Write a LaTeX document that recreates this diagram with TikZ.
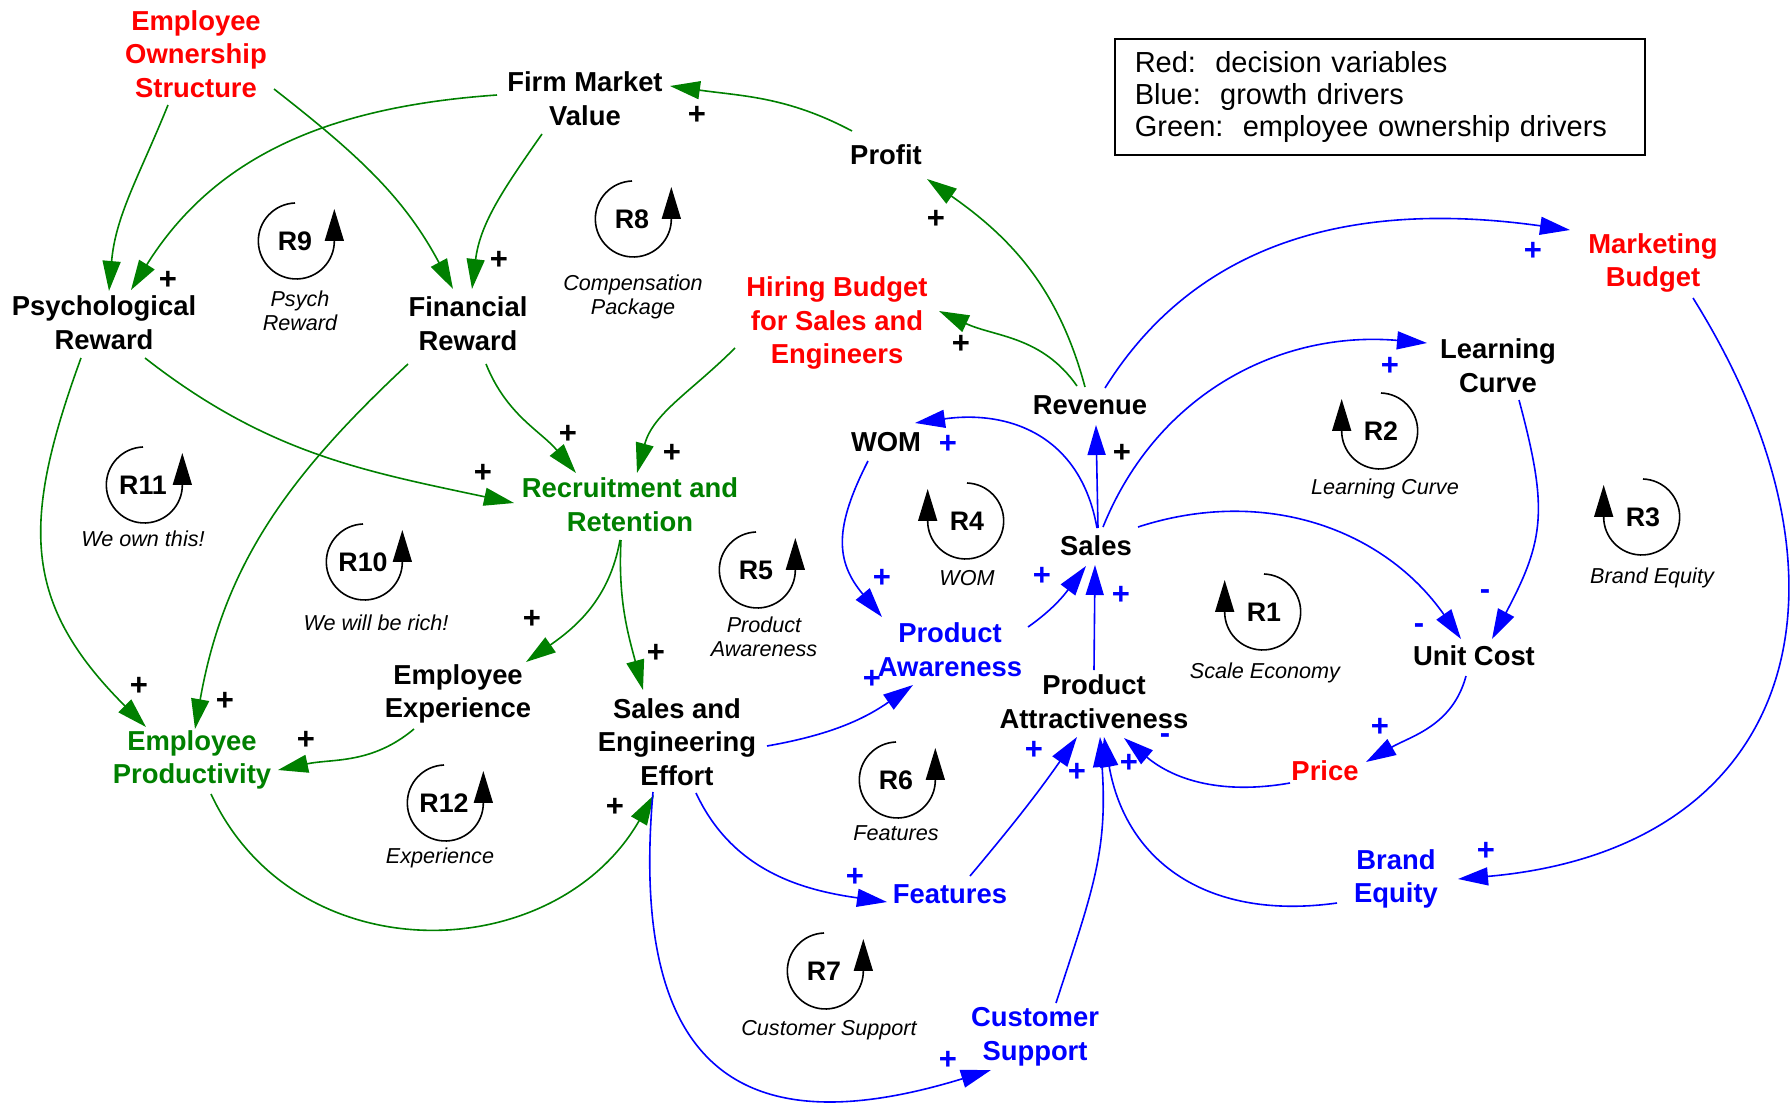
\documentclass[tikz,border=0pt]{standalone}
\usepackage{fontspec}
\setmainfont{Liberation Sans}
\usetikzlibrary{arrows.meta,calc}
\definecolor{dgreen}{RGB}{0,128,0}
\definecolor{pblue}{RGB}{0,0,255}
\definecolor{pred}{RGB}{255,0,0}
\begin{document}
\begin{tikzpicture}[x=0.5pt,y=0.5pt,
 lab/.style={font=\fontsize{13.7}{16.8}\selectfont\bfseries, align=center, inner sep=1pt},
 ital/.style={font=\fontsize{10.8}{12}\selectfont\itshape, align=center, inner sep=1pt},
 rlab/.style={font=\fontsize{13.4}{15}\selectfont\bfseries, inner sep=0pt},
 sgn/.style={font=\fontsize{15.5}{15.5}\selectfont\bfseries, inner sep=0pt},
 conn/.style={line width=0.8pt, -{Triangle[length=15pt,width=9pt]}},
 gc/.style={conn, draw=dgreen},
 bc/.style={conn, draw=pblue},
 loopline/.style={line width=0.8pt, draw=black, -{Triangle[length=16pt,width=9.5pt]}},
 legendbox/.style={draw, line width=0.8pt, anchor=north west, text width=245pt, align=left, inner xsep=10pt, minimum height=58pt, font=\fontsize{14.5}{16}\selectfont}
]
\useasboundingbox (0,0) rectangle (1790,-1103);

% ---------- variables ----------
\node[lab, text=pred] (eos) at (196,-54) {Employee\\Ownership\\Structure};
\node[lab] (fmv) at (585,-99) {Firm Market\\Value};
\node[lab] (profit) at (886,-155) {Profit};
\node[lab] (psych) at (104,-323) {Psychological\\Reward};
\node[lab] (fin) at (468,-324) {Financial\\Reward};
\node[lab, text=pred] (hiring) at (837,-323) {Hiring Budget\\for Sales and\\Engineers};
\node[lab, text=pred] (mkt) at (1653,-263) {Marketing\\Budget};
\node[lab] (learn) at (1498,-366) {Learning\\Curve};
\node[lab] (revenue) at (1090,-405) {Revenue};
\node[lab] (wom) at (886,-442) {WOM};
\node[lab, text=dgreen] (recruit) at (630,-505) {Recruitment and\\Retention};
\node[lab] (sales) at (1096,-546) {Sales};
\node[lab, text=pblue] (aware) at (950,-650) {Product\\Awareness};
\node[lab] (unitcost) at (1474,-656) {Unit Cost};
\node[lab] (empexp) at (458,-694) {Employee\\Experience};
\node[lab] (see) at (677,-742) {Sales and\\Engineering\\Effort};
\node[lab] (attract) at (1094,-702) {Product\\Attractiveness};
\node[lab, text=dgreen] (empprod) at (192,-760) {Employee\\Productivity};
\node[lab, text=pred] (price) at (1325,-771) {Price};
\node[lab, text=pblue] (brand) at (1396,-879) {Brand\\Equity};
\node[lab, text=pblue] (features) at (950,-894) {Features};
\node[lab, text=pblue] (custsup) at (1035,-1037) {Customer\\Support};

% ---------- legend ----------
\node[legendbox] (legend) at (1114,-38) {Red:\ \ decision variables\\Blue:\ \ growth drivers\\Green:\ \ employee ownership drivers};

% ---------- green links ----------
\draw[gc] ($(eos)+(-28,-51)$) to[out=-112,in=85] ($(psych)+(5,32)$);
\draw[gc] ($(fmv)+(-88,4)$) to[out=-176,in=58] ($(psych)+(27,33)$);
\draw[gc] ($(eos)+(78,-35)$) to[out=-38,in=118] ($(fin)+(-15,35)$);
\draw[gc] ($(fmv)+(-43,-35)$) to[out=-125,in=83] ($(fin)+(4,35)$);
\draw[gc] ($(profit)+(-34,24)$) to[out=152,in=-8] ($(fmv)+(85,13)$);
\draw[gc] ($(revenue)+(-5,18)$) to[out=105,in=-35] ($(profit)+(41,-24)$);
\draw[gc] ($(revenue)+(-13,19)$) to[out=125,in=-25] ($(hiring)+(102,12)$);
\draw[gc] ($(hiring)+(-102,-25)$) to[out=-135,in=75] ($(recruit)+(7,32)$);
\draw[gc] ($(fin)+(18,-40)$) to[out=-68,in=130] ($(recruit)+(-54,32)$);
\draw[gc] ($(psych)+(41,-35)$) to[out=-38,in=168] ($(recruit)+(-116,2)$);
\draw[gc] ($(psych)+(-23,-35)$) to[out=-110,in=135,looseness=1.2] ($(empprod)+(-46,33)$);
\draw[gc] ($(fin)+(-60,-40)$) to[out=-137,in=80] ($(empprod)+(3,31)$);
\draw[gc] ($(recruit)+(-10,-35)$) to[out=-100,in=35] ($(empexp)+(68,32)$);
\draw[gc] ($(recruit)+(-9,-35)$) to[out=-93,in=105] ($(see)+(-34,52)$);
\draw[gc] ($(empexp)+(-44,-35)$) to[out=-140,in=12] ($(empprod)+(86,-10)$);
\draw[gc] ($(empprod)+(19,-34)$) to[out=-65,in=-120,looseness=1.15] ($(see)+(-23,-53)$);

% ---------- blue links ----------
\draw[bc] ($(sales)+(1,18)$) to[out=100,in=8,looseness=1.15] ($(wom)+(29,19)$);
\draw[bc] ($(sales)+(2,18)$) -- ($(revenue)+(6,-20)$);
\draw[bc] ($(sales)+(7,19)$) to[out=68,in=175] ($(learn)+(-71,23)$);
\draw[bc] ($(revenue)+(15,17)$) to[out=58,in=172] ($(mkt)+(-83,33)$);
\draw[bc] ($(sales)+(42,19)$) to[out=18,in=125] ($(unitcost)+(-13,17)$);
\draw[bc] ($(learn)+(21,-34)$) to[out=-75,in=62,looseness=1.2] ($(unitcost)+(18,17)$);
\draw[bc] ($(mkt)+(40,-35)$) .. controls +(-58:340) and +(5:340) .. ($(brand)+(62,0)$);
\draw[bc] ($(unitcost)+(-8,-20)$) to[out=-105,in=30] ($(price)+(41,9)$);
\draw[bc] ($(price)+(-35,-12)$) to[out=190,in=-40] ($(attract)+(30,-36)$);
\draw[bc] ($(brand)+(-59,-24)$) to[out=188,in=-80,looseness=1.15] ($(attract)+(10,-35)$);
\draw[bc] ($(custsup)+(21,34)$) to[out=72,in=-86,looseness=1.1] ($(attract)+(6,-35)$);
\draw[bc] ($(features)+(20,18)$) to[out=50,in=-125] ($(attract)+(-17,-35)$);
\draw[bc] ($(attract)+(0,32)$) -- ($(sales)+(-1,-19)$);
\draw[bc] ($(aware)+(78,23)$) to[out=35,in=-127] ($(sales)+(-10,-20)$);
\draw[bc] ($(wom)+(-18,-19)$) to[out=-117,in=130,looseness=1.2] ($(aware)+(-68,33)$);
\draw[bc] ($(see)+(90,-4)$) to[out=10,in=-145] ($(aware)+(-37,-35)$);
\draw[bc] ($(see)+(19,-51)$) to[out=-65,in=172] ($(features)+(-63,-8)$);
\draw[bc] ($(see)+(-24,-50)$) .. controls +(-95:310) and +(197:230) .. ($(custsup)+(-44,-33)$);

% ---------- loop markers ----------
\foreach \nm/\lbl/\px/\py in {r9/R9/295/241, r8/R8/632/219, r11/R11/143/485, r10/R10/363/562, r5/R5/756/570, r12/R12/444/803, r6/R6/896/780, r7/R7/824/971}{
  \node[rlab] (\nm) at (\px,-\py) {\lbl};
  \draw[loopline] ($(\nm)+(0pt,19pt)$) arc[start angle=92,end angle=360,radius=19pt] -- ++(0pt,16pt);
}
\foreach \nm/\lbl/\px/\py in {r4/R4/967/521, r2/R2/1381/431, r1/R1/1264/612, r3/R3/1643/517}{
  \node[rlab] (\nm) at (\px,-\py) {\lbl};
  \draw[loopline] ($(\nm)+(0pt,19pt)$) arc[start angle=88,end angle=-180,radius=19pt] -- ++(0pt,16pt);
}
\node[ital] (n9) at (300,-311) {Psych\\Reward};
\node[ital] (n8) at (633,-297) {Compensation\\Package};
\node[ital] (n11) at (143,-539) {We own this!};
\node[ital] (n10) at (376,-623) {We will be rich!};
\node[ital] (n5) at (764,-637) {Product\\Awareness};
\node[ital] (n12) at (440,-858) {Experience};
\node[ital] (n6) at (896,-833) {Features};
\node[ital] (n7) at (829,-1030) {Customer Support};
\node[ital] (n4) at (967,-578) {WOM};
\node[ital] (n2) at (1385,-489) {Learning Curve};
\node[ital] (n1) at (1265,-673) {Scale Economy};
\node[ital] (n3) at (1652,-578) {Brand Equity};

% ---------- polarity signs ----------
\foreach \sx/\sy [count=\i] in {168/280, 499/260, 697/115, 936/219, 961/344, 568/434, 672/453, 483/473, 532/619, 656/653, 139/686, 225/701, 306/740, 615/807, 1122/453}{
  \node[sgn] (pk\i) at (\sx,-\sy) {+};
}
\foreach \sx/\sy [count=\i] in {948/444, 1390/366, 1533/251, 882/578, 872/679, 1042/576, 1121/595, 855/877, 948/1060, 1034/750, 1077/772, 1129/763, 1380/727, 1486/851}{
  \node[sgn, text=pblue] (pb\i) at (\sx,-\sy) {+};
}
\foreach \sx/\sy [count=\i] in {1419/629, 1485/595, 1165/739}{
  \node[sgn, text=pblue] (mb\i) at (\sx,-\sy) {-};
}
\end{tikzpicture}
\end{document}
